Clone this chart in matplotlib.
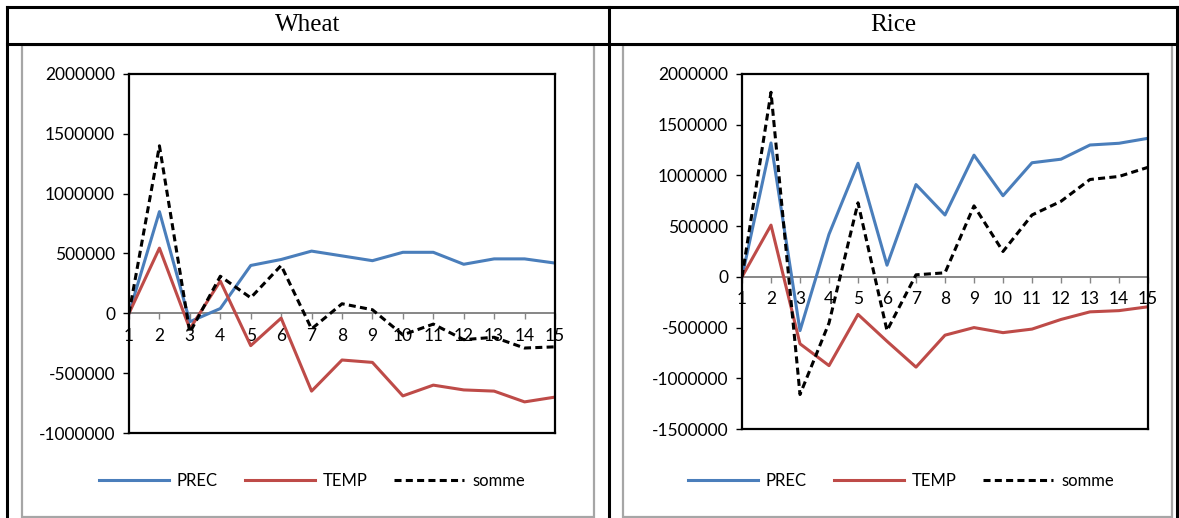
import numpy as np
import matplotlib.pyplot as plt
from matplotlib.patches import Rectangle
from matplotlib.lines import Line2D
from matplotlib.ticker import FuncFormatter

# categories (x axis)
periods = list(range(1, 16))

# Wheat
wheat_prec = [0, 850000, -70000, 40000, 400000, 450000, 520000, 480000, 440000,
              510000, 510000, 410000, 455000, 455000, 420000]
wheat_temp = [0, 545000, -130000, 270000, -270000, -40000, -650000, -390000, -410000,
              -690000, -600000, -640000, -650000, -740000, -700000]
wheat_somme = [0, 1400000, -160000, 310000, 130000, 400000, -130000, 80000, 30000,
               -180000, -90000, -220000, -200000, -290000, -280000]

# Rice
rice_prec = [0, 1320000, -530000, 420000, 1120000, 115000, 910000, 610000, 1200000,
             800000, 1125000, 1160000, 1300000, 1317000, 1366000]
rice_temp = [0, 510000, -660000, -875000, -370000, -635000, -890000, -575000, -500000,
             -550000, -515000, -420000, -345000, -333000, -295000]
rice_somme = [0, 1820000, -1160000, -455000, 730000, -530000, 20000, 40000, 700000,
              250000, 610000, 745000, 960000, 990000, 1080000]

W, H = 1179, 518
plt.rcParams['font.family'] = ['Lato', 'DejaVu Sans']
plt.rcParams['axes.unicode_minus'] = False
fig = plt.figure(figsize=(W / 100, H / 100), dpi=100)

def fx(px):
    return px / W

def fy(py):
    return 1 - py / H

# table lines
tab = dict(color='black', lw=2.2, transform=fig.transFigure)
fig.add_artist(Line2D([fx(7), fx(1177)], [fy(7), fy(7)], **tab))
fig.add_artist(Line2D([fx(7), fx(1177)], [fy(44), fy(44)], **tab))
for x in (7, 609, 1177):
    fig.add_artist(Line2D([fx(x), fx(x)], [fy(7), fy(518)], **tab))

fig.text(fx(308), fy(25), 'Wheat', family='Liberation Serif', fontsize=18,
         ha='center', va='center')
fig.text(fx(893), fy(25), 'Rice', family='Liberation Serif', fontsize=18,
         ha='center', va='center')

# chart frames
for x0, x1 in ((22, 594), (623, 1172)):
    fig.add_artist(Rectangle((fx(x0), fy(517)), fx(x1) - fx(x0), fy(45) - fy(517),
                             transform=fig.transFigure, fill=False,
                             edgecolor='#a6a6a6', lw=1.6))

blue = '#4a7ebb'
red = '#be4b48'


def panel(rect, prec, temp, somme, ylo, yhi, leg_x):
    ax = fig.add_axes(rect)
    l1, = ax.plot(periods, prec, color=blue, lw=2.2, label='PREC')
    l2, = ax.plot(periods, temp, color=red, lw=2.2, label='TEMP')
    l3, = ax.plot(periods, somme, color='black', lw=2.2, dashes=(2.3, 1.4), label='somme')
    ax.set_xlim(1, 15)
    ax.set_ylim(ylo, yhi)
    ax.set_yticks(np.arange(ylo, yhi + 1, 500000))
    ax.yaxis.set_major_formatter(FuncFormatter(lambda v, p: '%d' % round(v)))
    ax.tick_params(axis='y', direction='out', length=4, width=1, pad=6, labelsize=12.5)
    ax.set_xticks([])
    for s in ax.spines.values():
        s.set_linewidth(1.6)
        s.set_color('black')
    # category axis crossing at zero
    zero = (0 - ylo) / (yhi - ylo)
    sec = ax.secondary_xaxis(zero)
    sec.set_xticks(periods)
    sec.spines['bottom'].set_color('#868686')
    sec.spines['bottom'].set_linewidth(1.4)
    sec.tick_params(axis='x', direction='out', length=4.5, color='#868686',
                    width=1, pad=6, labelsize=12.5)
    fig.legend(handles=[l1, l2, l3], loc='center',
               bbox_to_anchor=(fx(leg_x), fy(481)), ncol=3, frameon=False,
               fontsize=12, handlelength=4.2, handletextpad=0.5,
               columnspacing=1.6)
    return ax


panel([fx(129), fy(433), fx(555) - fx(129), fy(74) - fy(433)],
      wheat_prec, wheat_temp, wheat_somme, -1000000, 2000000, 312)
panel([fx(742), fy(429), fx(1148) - fx(742), fy(74) - fy(429)],
      rice_prec, rice_temp, rice_somme, -1500000, 2000000, 901)

fig.savefig('out.png', dpi=100)
